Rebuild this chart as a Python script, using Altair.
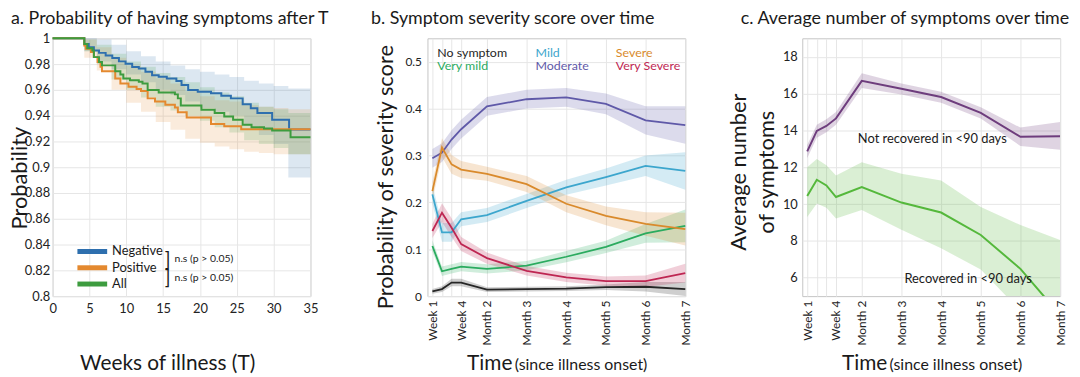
import altair as alt
import pandas as pd

FONT = "Lato"
W = 260
H = 260

# ---------------- Panel a : Kaplan-Meier style curves ----------------
A_GROUPS = ["Negative", "Positive", "All"]
A_COLORS = ["#2e6fae", "#e4892f", "#3d9c3f"]

NEG_T = [0, 4.3, 4.9, 5.6, 6.3, 7.2, 8.1, 9.0, 9.9, 10.8, 11.7, 12.6, 13.5, 14.4,
         15.5, 16.8, 17.5, 18.4, 19.7, 21.5, 22.9, 24.2, 25.8, 26.9, 27.8, 29.8, 32.1, 35]
NEG_P = [1.0, 0.9956, 0.9931, 0.9905, 0.9887, 0.9867, 0.9847, 0.9821, 0.9803, 0.9778,
         0.9765, 0.974, 0.9714, 0.9701, 0.9688, 0.9668, 0.9637, 0.9599, 0.9586, 0.9573,
         0.9555, 0.9534, 0.9488, 0.9458, 0.942, 0.9369, 0.9292, 0.9292]

POS_T = [0, 4.3, 4.5, 5.2, 5.6, 6.1, 6.5, 6.7, 8.5, 9.2, 10.3, 11.4, 12.0, 12.9, 13.9,
         15.3, 16.6, 17.0, 18.2, 21.5, 23.3, 25.6, 35]
POS_P = [1.0, 0.9944, 0.9918, 0.9893, 0.9854, 0.9816, 0.978, 0.9744, 0.9688, 0.965,
         0.9624, 0.9606, 0.9591, 0.9534, 0.9509, 0.9484, 0.9463, 0.9427, 0.9386, 0.9335,
         0.9317, 0.9295, 0.9295]

ALL_T = [0, 4.3, 4.7, 5.4, 5.6, 6.3, 6.7, 8.5, 9.2, 9.6, 10.5, 11.7, 12.2, 12.9, 14.4,
         16.6, 17.0, 17.4, 20.2, 22.0, 23.3, 24.5, 25.8, 27.0, 28.7, 29.8, 32.3, 35]
ALL_P = [1.0, 0.9956, 0.9923, 0.9905, 0.9854, 0.9816, 0.979, 0.9744, 0.9719, 0.9688,
         0.9675, 0.9663, 0.965, 0.9599, 0.958, 0.9565, 0.9534, 0.9478, 0.9445, 0.942,
         0.9394, 0.9369, 0.933, 0.931, 0.93, 0.9284, 0.9233, 0.9233]

BAND_T = [0, 4.3, 6, 8, 10, 12, 14, 16, 18, 20, 22, 24, 26, 28, 30, 32, 35]
NEG_LO = [1, 0.99, 0.982, 0.976, 0.972, 0.966, 0.96, 0.956, 0.951, 0.946, 0.943, 0.94,
          0.932, 0.925, 0.918, 0.892, 0.892]
NEG_HI = [1, 1.0, 0.999, 0.995, 0.99, 0.986, 0.982, 0.979, 0.976, 0.974, 0.972, 0.97,
          0.967, 0.965, 0.963, 0.961, 0.961]
POS_LO = [1, 0.985, 0.975, 0.96, 0.95, 0.943, 0.935, 0.929, 0.922, 0.919, 0.916, 0.914,
          0.912, 0.911, 0.91, 0.91, 0.91]
POS_HI = [1, 0.999, 0.993, 0.985, 0.979, 0.974, 0.969, 0.965, 0.959, 0.955, 0.952, 0.951,
          0.948, 0.947, 0.946, 0.945, 0.945]
ALL_LO = [1, 0.99, 0.98, 0.968, 0.96, 0.954, 0.947, 0.944, 0.94, 0.936, 0.931, 0.927,
          0.921, 0.918, 0.915, 0.91, 0.91]
ALL_HI = [1, 0.999, 0.995, 0.988, 0.982, 0.978, 0.973, 0.97, 0.966, 0.962, 0.958, 0.955,
          0.95, 0.947, 0.945, 0.942, 0.942]

A_XTICKS = [0, 5, 10, 15, 20, 25, 30, 35]
A_YTICKS = [0.8, 0.82, 0.84, 0.86, 0.88, 0.9, 0.92, 0.94, 0.96, 0.98, 1.0]
NS_LABELS = ["n.s (p > 0.05)", "n.s (p > 0.05)"]

# ---------------- Panel b : severity probabilities ----------------
TICK_DAYS = [7, 14, 21, 28, 60, 90, 120, 150, 180, 210]
TICK_LABELS = ["Week 1", "", "", "Week 4", "Month 2", "Month 3", "Month 4",
               "Month 5", "Month 6", "Month 7"]
SEV_NAMES = ["No symptom", "Very mild", "Mild", "Moderate", "Severe", "Very Severe"]
SEV_COLORS = ["#262626", "#2bab5f", "#3ca6cd", "#5f59a8", "#d98a2c", "#be2652"]
SEV_VALUES = [
    [0.010, 0.015, 0.029, 0.029, 0.014, 0.015, 0.016, 0.019, 0.020, 0.015],
    [0.107, 0.053, 0.058, 0.063, 0.058, 0.065, 0.084, 0.105, 0.134, 0.150],
    [0.217, 0.136, 0.136, 0.164, 0.173, 0.203, 0.232, 0.254, 0.278, 0.267],
    [0.294, 0.306, 0.334, 0.356, 0.405, 0.420, 0.424, 0.410, 0.375, 0.365],
    [0.224, 0.317, 0.281, 0.270, 0.261, 0.239, 0.197, 0.171, 0.154, 0.143],
    [0.139, 0.178, 0.146, 0.111, 0.081, 0.054, 0.040, 0.032, 0.032, 0.049],
]
SEV_ERR = [
    [0.005, 0.006, 0.008, 0.008, 0.005, 0.005, 0.005, 0.006, 0.010, 0.015],
    [0.012, 0.010, 0.010, 0.010, 0.010, 0.010, 0.012, 0.013, 0.020, 0.035],
    [0.020, 0.020, 0.020, 0.015, 0.015, 0.015, 0.016, 0.018, 0.022, 0.040],
    [0.020, 0.020, 0.020, 0.020, 0.020, 0.020, 0.020, 0.022, 0.030, 0.040],
    [0.020, 0.020, 0.020, 0.018, 0.015, 0.017, 0.018, 0.020, 0.025, 0.035],
    [0.015, 0.020, 0.020, 0.015, 0.012, 0.010, 0.010, 0.010, 0.012, 0.020],
]
SEV_COL = [0, 0, 1, 1, 2, 2]
SEV_ROW = [0, 1, 0, 1, 0, 1]
B_YTICKS = [0, 0.1, 0.2, 0.3, 0.4, 0.5]

# ---------------- Panel c : average number of symptoms ----------------
C_NAMES = ["Not recovered in <90 days", "Recovered in <90 days"]
C_COLORS = ["#6e3d7d", "#55b83c"]
NOTREC = [12.86, 13.97, 14.24, 14.65, 16.69, 16.26, 15.81, 14.95, 13.65, 13.68]
NOTREC_LO = [12.5, 13.6, 13.9, 14.3, 16.3, 15.95, 15.5, 14.65, 13.15, 12.95]
NOTREC_HI = [13.2, 14.3, 14.6, 15.0, 17.1, 16.55, 16.1, 15.25, 14.15, 14.45]
REC = [10.44, 11.32, 11.01, 10.38, 10.92, 10.08, 9.54, 8.32, 6.48, 3.97]
REC_LO = [9.3, 10.03, 9.8, 9.22, 9.67, 8.6, 7.6, 6.44, 4.2, 0.5]
REC_HI = [12.0, 12.45, 12.1, 11.55, 12.27, 11.64, 11.28, 9.84, 8.86, 8.05]
C_YTICKS = [6, 8, 10, 12, 14, 16, 18]

# ---------------- tables ----------------
a_lines = pd.concat([
    pd.DataFrame({"week": NEG_T, "p": NEG_P, "group": "Negative"}),
    pd.DataFrame({"week": POS_T, "p": POS_P, "group": "Positive"}),
    pd.DataFrame({"week": ALL_T, "p": ALL_P, "group": "All"}),
])
a_bands = pd.concat([
    pd.DataFrame({"week": BAND_T, "lo": NEG_LO, "hi": NEG_HI, "group": "Negative"}),
    pd.DataFrame({"week": BAND_T, "lo": POS_LO, "hi": POS_HI, "group": "Positive"}),
    pd.DataFrame({"week": BAND_T, "lo": ALL_LO, "hi": ALL_HI, "group": "All"}),
])
a_leg = pd.DataFrame({"group": A_GROUPS, "i": list(range(len(A_GROUPS)))})
a_ns = pd.DataFrame({"t": NS_LABELS, "i": list(range(len(NS_LABELS)))})

b_rows = []
for name, vals, errs in zip(SEV_NAMES, SEV_VALUES, SEV_ERR):
    for d, v, e in zip(TICK_DAYS, vals, errs):
        b_rows.append({"day": d, "v": v, "lo": v - e, "hi": v + e, "cat": name})
b_df = pd.DataFrame(b_rows)
b_leg = pd.DataFrame({"cat": SEV_NAMES, "col": SEV_COL, "row": SEV_ROW})

c_df = pd.concat([
    pd.DataFrame({"day": TICK_DAYS, "v": NOTREC, "lo": NOTREC_LO, "hi": NOTREC_HI, "grp": C_NAMES[0]}),
    pd.DataFrame({"day": TICK_DAYS, "v": REC, "lo": REC_LO, "hi": REC_HI, "grp": C_NAMES[1]}),
])

# ---------------- helpers ----------------
def txt(text, x, y, size, align="left", baseline="alphabetic", angle=0, color="#1a1a1a"):
    kw = dict(align=align, baseline=baseline, fontSize=size, font=FONT, color=color)
    if angle:
        kw["angle"] = angle
    return alt.Chart(pd.DataFrame({"t": [text]})).mark_text(**kw).encode(
        x=alt.value(x), y=alt.value(y), text="t:N")

label_expr = " : ".join(
    f"datum.value == {d} ? '{l}'" for d, l in zip(TICK_DAYS, TICK_LABELS)) + " : ''"

time_scale = alt.Scale(domain=[3.4, 28, 60, 210], range=[0, 34, 60, W], nice=False, zero=False)
time_axis = alt.Axis(values=TICK_DAYS, labelExpr=label_expr, labelAngle=-90, title=None,
                     labelFontSize=12, labelPadding=4, labelFlush=False, labelOverlap=False,
                     tickCount=len(TICK_DAYS))

def tx():
    return alt.X("day:Q", scale=time_scale, axis=time_axis)

TITLE_Y = -14

# ---------------- Panel a ----------------
a_color = alt.Scale(domain=A_GROUPS, range=A_COLORS)
a_xscale = alt.Scale(domain=[0, 35], nice=False)
a_xaxis = alt.Axis(values=A_XTICKS, title=None, labelFontSize=13, labelPadding=7,
                   labelFlush=False, labelOverlap=False)
a_yscale = alt.Scale(domain=[0.8, 1.0], nice=False, zero=False)
a_yaxis = alt.Axis(values=A_YTICKS, format=".2~f", title=None, labelFontSize=13,
                   labelPadding=3, labelFlush=False, labelOverlap=False)

a_band = alt.Chart(a_bands).mark_area(interpolate="step-after", opacity=0.17).encode(
    x=alt.X("week:Q", scale=a_xscale, axis=a_xaxis),
    y=alt.Y("lo:Q", scale=a_yscale, axis=a_yaxis),
    y2="hi:Q",
    color=alt.Color("group:N", scale=a_color, legend=None),
)
a_line = alt.Chart(a_lines).mark_line(interpolate="step-after", strokeWidth=2).encode(
    x=alt.X("week:Q", scale=a_xscale, axis=a_xaxis),
    y=alt.Y("p:Q", scale=a_yscale, axis=a_yaxis),
    color=alt.Color("group:N", scale=a_color, legend=None),
)
a_leg_rule = alt.Chart(a_leg).mark_rule(strokeWidth=5).transform_calculate(
    ly="215 + datum.i * 16.4").encode(
    x=alt.value(25), x2=alt.value(55),
    y=alt.Y("ly:Q", scale=None, axis=None),
    color=alt.Color("group:N", scale=a_color, legend=None),
)
a_leg_txt = alt.Chart(a_leg).mark_text(align="left", baseline="middle", fontSize=13,
                                       font=FONT, color="#1a1a1a").transform_calculate(
    ly="215 + datum.i * 16.4").encode(
    x=alt.value(60), y=alt.Y("ly:Q", scale=None, axis=None), text="group:N")
a_br = alt.Chart(a_ns).mark_text(align="left", baseline="middle", fontSize=19,
                                 font=FONT, color="#1a1a1a").transform_calculate(
    ly="223.5 + datum.i * 18", b="']'").encode(
    x=alt.value(113), y=alt.Y("ly:Q", scale=None, axis=None), text="b:N")
a_ns_txt = alt.Chart(a_ns).mark_text(align="left", baseline="middle", fontSize=10.5,
                                     font=FONT, color="#1a1a1a").transform_calculate(
    ly="223 + datum.i * 19").encode(
    x=alt.value(123), y=alt.Y("ly:Q", scale=None, axis=None), text="t:N")

panel_a = alt.layer(
    a_band, a_line, a_leg_rule, a_leg_txt, a_br, a_ns_txt,
    txt("a. Probability of having symptoms after T", -42, TITLE_Y, 18),
    txt("Probability", -26, 141, 22, align="center", angle=270),
    txt("Weeks of illness (T)", 116, 335, 21, align="center"),
).properties(width=W, height=H)

# ---------------- Panel b ----------------
b_color = alt.Scale(domain=SEV_NAMES, range=SEV_COLORS)
b_yscale = alt.Scale(domain=[0, 0.55], nice=False)
b_yaxis = alt.Axis(values=B_YTICKS, format=".1~f", title=None, labelFontSize=12,
                   labelPadding=6, labelFlush=False, labelOverlap=False)
b_band = alt.Chart(b_df).mark_area(opacity=0.22).encode(
    x=tx(),
    y=alt.Y("lo:Q", scale=b_yscale, axis=b_yaxis),
    y2="hi:Q",
    color=alt.Color("cat:N", scale=b_color, legend=None),
)
b_line = alt.Chart(b_df).mark_line(strokeWidth=1.8).encode(
    x=tx(),
    y=alt.Y("v:Q", scale=b_yscale, axis=b_yaxis),
    color=alt.Color("cat:N", scale=b_color, legend=None))
b_leg_txt = alt.Chart(b_leg).mark_text(align="left", baseline="alphabetic", fontSize=12.5,
                                       font=FONT).transform_calculate(
    lx="[10, 109, 190][datum.col]", ly="19 + datum.row * 12.5").encode(
    x=alt.X("lx:Q", scale=None, axis=None), y=alt.Y("ly:Q", scale=None, axis=None),
    text="cat:N", color=alt.Color("cat:N", scale=b_color, legend=None))

panel_b = alt.layer(
    b_band, b_line, b_leg_txt,
    txt("b. Symptom severity score over time", -57, TITLE_Y, 18),
    txt("Probability of severity score", -35, 140, 22, align="center", angle=270),
    txt("Time", 40, 335, 21),
    txt("(since illness onset)", 88, 335, 16),
).properties(width=W, height=H)

# ---------------- Panel c ----------------
c_color = alt.Scale(domain=C_NAMES, range=C_COLORS)
c_yscale = alt.Scale(domain=[5, 19], nice=False, zero=False)
c_yaxis = alt.Axis(values=C_YTICKS, title=None, labelFontSize=13, labelPadding=5,
                   labelFlush=False, labelOverlap=False)
c_band = alt.Chart(c_df).mark_area(opacity=0.22, clip=True).encode(
    x=tx(),
    y=alt.Y("lo:Q", scale=c_yscale, axis=c_yaxis),
    y2="hi:Q",
    color=alt.Color("grp:N", scale=c_color, legend=None),
)
c_line = alt.Chart(c_df).mark_line(strokeWidth=2, clip=True).encode(
    x=tx(),
    y=alt.Y("v:Q", scale=c_yscale, axis=c_yaxis),
    color=alt.Color("grp:N", scale=c_color, legend=None))

panel_c = alt.layer(
    c_band, c_line,
    txt(C_NAMES[0], 56, 106, 13),
    txt(C_NAMES[1], 103, 247, 13),
    txt("c. Average number of symptoms over time", -62, TITLE_Y, 18),
    txt("Average number", -57, 135, 22, align="center", angle=270),
    txt("of symptoms", -29, 135, 22, align="center", angle=270),
    txt("Time", 40, 335, 21),
    txt("(since illness onset)", 88, 335, 16),
).properties(width=W, height=H)

chart = alt.hconcat(panel_a, panel_b, panel_c, spacing=118, bounds="flush").resolve_scale(
    color="independent"
).properties(
    padding={"left": 0, "top": 0, "right": 0, "bottom": 0}
).configure_view(stroke="#c4c4c4", strokeWidth=1).configure_axis(
    domain=False, ticks=False, grid=True, gridColor="#e6e6e6", gridWidth=1,
    labelFont=FONT, labelColor="#222222", titleFont=FONT,
)

chart.save("out.html", embed_options={"renderer": "svg", "actions": False})
